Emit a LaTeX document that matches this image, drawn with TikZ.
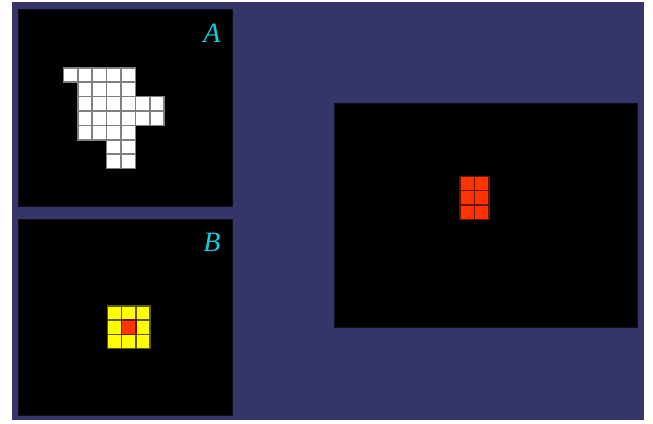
\documentclass[tikz,border=0pt]{standalone}
\usepackage{fontspec}
\setmainfont{Liberation Serif}
\usetikzlibrary{positioning}
\definecolor{gridNavy}{HTML}{35356A}
\definecolor{gridLabel}{HTML}{13CCDB}
\definecolor{gridRed}{HTML}{FF3300}
\definecolor{gridYellow}{HTML}{FFFF00}
\tikzset{
  gridPanel/.style={
    fill=black,
    draw=black!75!gridNavy,
    line width=0.8pt,
    anchor=north west,
    inner sep=0pt
  },
  panelLabel/.style={
    text=gridLabel,
    font=\fontsize{28}{30}\selectfont\itshape,
    inner sep=0pt
  },
  whiteCell/.style={fill=white, draw=black!50, line width=1.6pt},
  yellowCell/.style={fill=gridYellow, draw=gridYellow!35!black, line width=1.6pt},
  redCell/.style={fill=gridRed, draw=gridRed!40!black, line width=1.6pt}
}

\begin{document}
\begin{tikzpicture}[x=1pt,y=-1pt]
  \useasboundingbox (0,0) rectangle (653,423);
  \fill[gridNavy] (12,2) rectangle (644,420);

  % the three panels
  \node[gridPanel, minimum width=214pt, minimum height=197pt] (panelA) at (18,9) {};
  \node[gridPanel, minimum width=214pt, minimum height=196pt] (panelB) at (18,219) {};
  \node[gridPanel, minimum width=303pt, minimum height=224pt] (panelC) at (334,103) {};

  \node[panelLabel] (labA) at (212,33) {A};
  \node[panelLabel] (labB) at (212,242) {B};

  % shape A
  \foreach \r/\a/\b in {0/0/4,1/1/4,2/1/6,3/1/6,4/1/4,5/3/4,6/3/4}
    \foreach \c in {\a,...,\b}
      \draw[whiteCell] ({63.3+\c*14.4},{67.7+\r*14.4}) rectangle +(14.4,14.4);

  % shape B
  \foreach \r in {0,1,2}
    \foreach \c in {0,1,2}
      \draw[yellowCell] ({107.3+\c*14.2},{306+\r*14.2}) rectangle +(14.2,14.2);
  \draw[redCell] ({107.3+14.2},{306+14.2}) rectangle +(14.2,14.2);

  % result
  \foreach \r in {0,1,2}
    \foreach \c in {0,1}
      \draw[redCell] ({460+\c*14.6},{176.3+\r*14.35}) rectangle +(14.6,14.35);
\end{tikzpicture}
\end{document}
